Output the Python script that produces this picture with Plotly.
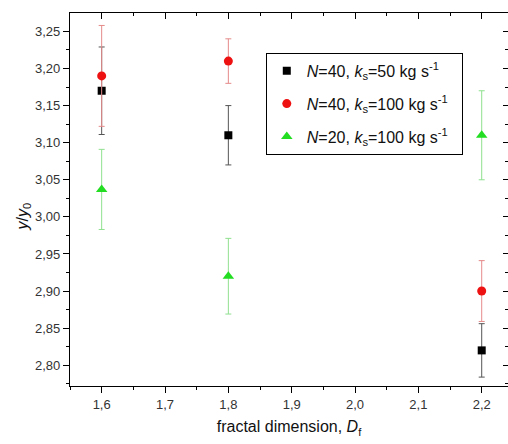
import plotly.graph_objects as go

# Fractal dimension of the aggregates (x) and normalised response y/y0
df_values = [1.6, 1.8, 2.2]

# N=40, ks=50 kg/s
y_n40_k50 = [3.17, 3.11, 2.82]
err_n40_k50 = [0.059, 0.040, 0.036]

# N=40, ks=100 kg/s
y_n40_k100 = [3.19, 3.21, 2.90]
err_n40_k100 = [0.068, 0.030, 0.041]

# N=20, ks=100 kg/s
y_n20_k100 = [3.037, 2.92, 3.11]
err_n20_k100 = [0.054, 0.051, 0.060]

x_tick_vals = [1.6, 1.7, 1.8, 1.9, 2.0, 2.1, 2.2]
x_tick_text = ["1,6", "1,7", "1,8", "1,9", "2,0", "2,1", "2,2"]
y_tick_vals = [2.80, 2.85, 2.90, 2.95, 3.00, 3.05, 3.10, 3.15, 3.20, 3.25]
y_tick_text = ["2,80", "2,85", "2,90", "2,95", "3,00", "3,05", "3,10", "3,15", "3,20", "3,25"]

FONT = "Liberation Sans, Arial, sans-serif"
X_RANGE = [1.55, 2.2415]
Y_RANGE = [2.772, 3.2748]
PAD = "\u00a0\u00a0"  # a little extra room on the right of legend entries

series = [
    (y_n40_k50, err_n40_k50, "<i>N</i>=40, <i>k</i><sub>s</sub>=50 kg s<sup>-1</sup>",
     dict(symbol="square", size=8, color="#000000"), "#555555"),
    (y_n40_k100, err_n40_k100, "<i>N</i>=40, <i>k</i><sub>s</sub>=100 kg s<sup>-1</sup>",
     dict(symbol="circle", size=9, color="#ee1111"), "#e58a8a"),
    (y_n20_k100, err_n20_k100, "<i>N</i>=20, <i>k</i><sub>s</sub>=100 kg s<sup>-1</sup>",
     dict(symbol="triangle-up", size=10, color="#22dd22"), "#8fe08f"),
]

fig = go.Figure()
for i, (ys, errs, name, marker, ecol) in enumerate(series):
    fig.add_trace(go.Scatter(
        x=df_values, y=ys, mode="markers", name=name + PAD, marker=marker,
        legendgroup=f"g{i}",
        error_y=dict(type="data", array=errs, visible=True, color=ecol,
                     thickness=1, width=3),
    ))

axis_common = dict(
    showline=True, linecolor="#000000", linewidth=1.2, showgrid=False,
    zeroline=False, tickcolor="#000000",
    tickfont=dict(family=FONT, size=13, color="#333333"),
)

fig.update_layout(
    width=508, height=444,
    margin=dict(l=70, r=0, t=13, b=58),
    paper_bgcolor="white", plot_bgcolor="white",
    font=dict(family=FONT, color="#111111"),
    xaxis=dict(
        range=X_RANGE, tickvals=x_tick_vals, ticktext=x_tick_text,
        ticks="outside", ticklen=6, tickwidth=1.2,
        minor=dict(dtick=0.05, tick0=1.55, ticks="outside", ticklen=3, tickcolor="#000000"),
        title=dict(text="fractal dimension, <i>D</i><sub>f</sub>",
                   font=dict(family=FONT, size=16, color="#111111"), standoff=10),
        **axis_common,
    ),
    yaxis=dict(
        range=Y_RANGE, tickvals=y_tick_vals, ticktext=y_tick_text,
        ticks="outside", ticklen=6, tickwidth=1.2,
        minor=dict(dtick=0.025, tick0=2.775, ticks="outside", ticklen=3, tickcolor="#000000"),
        **axis_common,
    ),
    # frame on top and right with inward ticks
    xaxis2=dict(
        overlaying="x", side="top", matches="x", range=X_RANGE,
        tickvals=x_tick_vals, showticklabels=False,
        ticks="inside", ticklen=6, tickwidth=1.2,
        minor=dict(dtick=0.05, tick0=1.55, ticks="inside", ticklen=3, tickcolor="#000000"),
        **axis_common,
    ),
    yaxis2=dict(
        overlaying="y", side="right", matches="y", range=Y_RANGE,
        tickvals=y_tick_vals, showticklabels=False,
        ticks="inside", ticklen=5, tickwidth=1.2,
        minor=dict(dtick=0.025, tick0=2.775, ticks="inside", ticklen=3, tickcolor="#000000"),
        **axis_common,
    ),
    legend=dict(
        x=0.447, y=0.893, xanchor="left", yanchor="top",
        bordercolor="#000000", borderwidth=1, bgcolor="white",
        tracegroupgap=9,
        font=dict(family=FONT, size=16, color="#111111"),
    ),
    showlegend=True,
)

# invisible companion trace so the top/right frame axes are rendered
fig.add_trace(go.Scatter(x=df_values, y=y_n40_k50, xaxis="x2", yaxis="y2",
                         mode="markers", marker=dict(opacity=0),
                         showlegend=False, hoverinfo="skip"))

fig.add_annotation(
    text="<i>y</i>/<i>y</i><sub>0</sub>", textangle=-90,
    xref="paper", yref="paper", x=-0.107, y=0.455, xanchor="center", yanchor="middle",
    showarrow=False, font=dict(family=FONT, size=16, color="#111111"),
)

fig.write_html("out.html")
